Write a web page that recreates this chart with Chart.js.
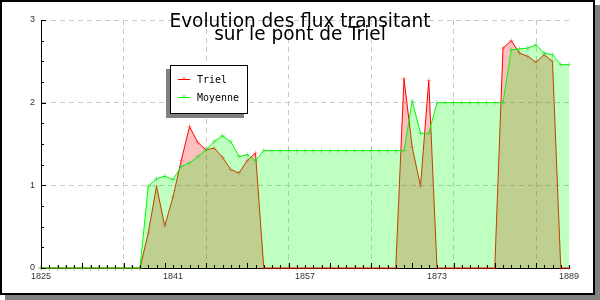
<!DOCTYPE html>
<html>
<head>
<meta charset="utf-8">
<script src="https://cdn.jsdelivr.net/npm/chart.js@4.4.1/dist/chart.umd.min.js"></script>
<style>
  html, body { margin: 0; padding: 0; background: #fff; }
  #wrap { position: absolute; left: 0; top: 0; width: 600px; height: 300px; }
</style>
</head>
<body>
<div id="wrap"><canvas id="flux" width="600" height="300"></canvas></div>
<script>
// one point per year, 1825 -> 1889
var years = [1825, 1826, 1827, 1828, 1829, 1830, 1831, 1832, 1833, 1834,
             1835, 1836, 1837, 1838, 1839, 1840, 1841, 1842, 1843, 1844,
             1845, 1846, 1847, 1848, 1849, 1850, 1851, 1852, 1853, 1854,
             1855, 1856, 1857, 1858, 1859, 1860, 1861, 1862, 1863, 1864,
             1865, 1866, 1867, 1868, 1869, 1870, 1871, 1872, 1873, 1874,
             1875, 1876, 1877, 1878, 1879, 1880, 1881, 1882, 1883, 1884,
             1885, 1886, 1887, 1888, 1889];

var triel = [0, 0, 0, 0, 0, 0, 0, 0, 0, 0,
             0, 0, 0, 0.42, 0.99, 0.51, 0.86, 1.30, 1.71, 1.52,
             1.43, 1.45, 1.34, 1.19, 1.15, 1.30, 1.39, 0, 0, 0,
             0, 0, 0, 0, 0, 0, 0, 0, 0, 0,
             0, 0, 0, 0, 2.29, 1.46, 0.99, 2.27, 0, 0,
             0, 0, 0, 0, 0, 0, 2.66, 2.75, 2.60, 2.56,
             2.49, 2.58, 2.50, 0, 0];

var moyenne = [0, 0, 0, 0, 0, 0, 0, 0, 0, 0,
               0, 0, 0, 0.99, 1.08, 1.11, 1.07, 1.23, 1.27, 1.35,
               1.43, 1.53, 1.60, 1.53, 1.35, 1.37, 1.30, 1.42, 1.42, 1.42,
               1.42, 1.42, 1.42, 1.42, 1.42, 1.42, 1.42, 1.42, 1.42, 1.42,
               1.42, 1.42, 1.42, 1.42, 1.42, 2.02, 1.63, 1.63, 2.00, 2.00,
               2.00, 2.00, 2.00, 2.00, 2.00, 2.00, 2.00, 2.64, 2.65, 2.66,
               2.70, 2.60, 2.58, 2.46, 2.46];

var xLabelYears = [1825, 1841, 1857, 1873, 1889];
var xGridYears = [1835, 1845, 1855, 1865, 1875, 1885];
var yLabels = [0, 1, 2, 3];
var titleLines = ['Evolution des flux transitant', 'sur le pont de Triel'];

var tickFont = '"Liberation Sans", Arial, sans-serif';

// white page, black frame and grey drop shadow
const framePlugin = {
    id: 'frame',
    beforeDraw(chart) {
        const c = chart.ctx;
        c.save();
        c.fillStyle = '#fff';
        c.fillRect(0, 0, 600, 300);
        c.fillStyle = '#808080';
        c.fillRect(595, 5, 5, 295);
        c.fillRect(5, 295, 595, 5);
        c.fillStyle = '#000';
        c.fillRect(0, 0, 595, 295);
        c.fillStyle = '#fff';
        c.fillRect(2, 2, 591, 291);
        c.restore();
    }
};

// small tick marks pointing into the plot
const innerTicks = {
    id: 'innerTicks',
    afterDatasetsDraw(chart) {
        const c = chart.ctx, xs = chart.scales.x, ys = chart.scales.y, a = chart.chartArea;
        c.save();
        c.strokeStyle = '#000';
        c.lineWidth = 1;
        c.beginPath();
        years.forEach(function (yr, i) {
            let px = Math.round(xs.getPixelForValue(i)) + 0.5;
            let len = yr % 5 === 0 ? 5 : 3;
            c.moveTo(px, a.bottom);
            c.lineTo(px, a.bottom - len);
        });
        ys.ticks.forEach(function (t) {
            let py = Math.round(ys.getPixelForValue(t.value)) + 0.5;
            let len = Number.isInteger(t.value) ? 5 : 3;
            c.moveTo(a.left, py);
            c.lineTo(a.left + len, py);
        });
        c.stroke();
        c.restore();
    }
};

// two line title squeezed together, drawn over the plot
const titlePlugin = {
    id: 'bigTitle',
    afterDraw(chart) {
        const c = chart.ctx;
        c.save();
        c.fillStyle = '#000';
        c.textAlign = 'center';
        c.textBaseline = 'alphabetic';
        c.font = '20px "DejaVu Sans Condensed", "DejaVu Sans", sans-serif';
        let sx = 261 / c.measureText(titleLines[0]).width;
        c.translate(300, 0);
        c.scale(sx, 1);
        c.fillText(titleLines[0], 0, 27);
        c.fillText(titleLines[1], 0, 40);
        c.restore();
    }
};

// boxed legend with shadow
const legendBox = {
    id: 'legendBox',
    afterDraw(chart) {
        const c = chart.ctx;
        const x = 170, y = 65, w = 78, h = 49;
        c.save();
        c.fillStyle = '#808080';
        c.fillRect(x - 4, y + 4, w, h);
        c.fillStyle = '#fff';
        c.fillRect(x, y, w, h);
        c.strokeStyle = '#000';
        c.lineWidth = 1;
        c.strokeRect(x + 0.5, y + 0.5, w - 1, h - 1);
        c.font = '10px "DejaVu Sans Mono", monospace';
        c.textBaseline = 'middle';
        c.textAlign = 'left';
        chart.data.datasets.forEach(function (ds, i) {
            let ly = y + 14.5 + i * 18;
            c.strokeStyle = ds.borderColor;
            c.beginPath();
            c.moveTo(178, ly);
            c.lineTo(190, ly);
            c.stroke();
            c.strokeStyle = ds.pointBorderColor;
            c.beginPath();
            c.moveTo(184, ly - 3);
            c.lineTo(184, ly);
            c.moveTo(181.5, ly - 1.5);
            c.lineTo(186.5, ly - 1.5);
            c.stroke();
            c.fillStyle = '#000';
            c.fillText(ds.label, 197, ly + 0.5);
        });
        c.restore();
    }
};

const chart = new Chart(document.getElementById('flux'), {
    type: 'line',
    data: {
        labels: years,
        datasets: [{
            label: 'Triel',
            data: triel,
            borderColor: '#ff0000',
            backgroundColor: 'rgba(255,0,0,0.25)',
            fill: 'origin',
            borderWidth: 1,
            tension: 0,
            pointStyle: 'cross',
            pointRadius: 2.5,
            pointBorderWidth: 1,
            pointBorderColor: 'rgba(255,60,60,0.4)',
            clip: false,
            order: 2
        }, {
            label: 'Moyenne',
            data: moyenne,
            borderColor: '#00ff00',
            backgroundColor: 'rgba(0,255,0,0.25)',
            fill: 'origin',
            borderWidth: 1,
            tension: 0,
            pointStyle: 'cross',
            pointRadius: 2.5,
            pointBorderWidth: 1,
            pointBorderColor: 'rgba(60,200,60,0.45)',
            clip: false,
            order: 1
        }]
    },
    options: {
        responsive: false,
        animation: false,
        devicePixelRatio: 1,
        layout: { padding: { left: 0, right: 31, top: 20, bottom: 0 } },
        plugins: {
            legend: { display: false },
            title: { display: false },
            tooltip: { enabled: false }
        },
        scales: {
            x: {
                type: 'category',
                offset: false,
                grid: {
                    drawTicks: false,
                    lineWidth: 1,
                    color: ctx => xGridYears.indexOf(years[ctx.index]) >= 0 ? '#c8c8c8' : 'transparent'
                },
                border: { color: '#000', width: 1, dash: [5, 4] },
                ticks: {
                    autoSkip: false,
                    maxRotation: 0,
                    padding: 3,
                    color: '#333',
                    font: { family: tickFont, size: 9 },
                    callback: function (v, i) {
                        return xLabelYears.indexOf(years[i]) >= 0 ? String(years[i]) : '';
                    }
                },
                afterFit: function (s) { s.height = 32; }
            },
            y: {
                min: 0,
                max: 3,
                grid: {
                    drawTicks: false,
                    lineWidth: 1,
                    color: ctx => (ctx.tick && ctx.tick.value > 0 && yLabels.indexOf(ctx.tick.value) >= 0) ? '#c8c8c8' : 'transparent'
                },
                border: { color: '#000', width: 1, dash: [5, 4] },
                ticks: {
                    stepSize: 0.25,
                    autoSkip: false,
                    padding: 6,
                    color: '#333',
                    font: { family: tickFont, size: 9 },
                    callback: v => yLabels.indexOf(v) >= 0 ? String(v) : ''
                },
                afterFit: function (s) { s.width = 41; }
            }
        }
    },
    plugins: [framePlugin, innerTicks, titlePlugin, legendBox]
});
</script>
</body>
</html>
